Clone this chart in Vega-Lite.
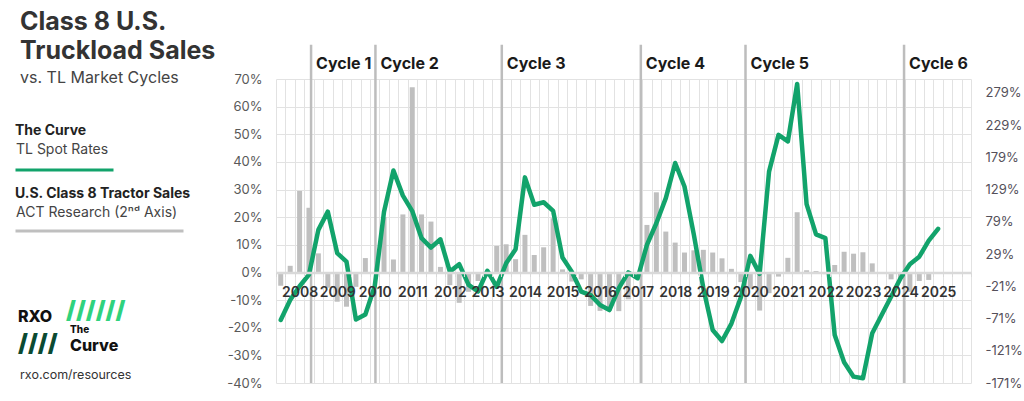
{
  "$schema": "https://vega.github.io/schema/vega-lite/v6.json",
  "width": 695,
  "height": 304,
  "autosize": {"type": "none"},
  "padding": {"left": 276, "top": 79, "right": 53, "bottom": 18},
  "background": "white",
  "config": {
    "view": {"stroke": null},
    "font": "Inter",
    "legend": {"padding": 0}
  },
  "title": {
    "text": ["Class 8 U.S.", "Truckload Sales"],
    "subtitle": "vs. TL Market Cycles",
    "anchor": "start", "frame": "group", "dx": -256, "offset": -43,
    "font": "Inter", "fontSize": 25, "fontWeight": 700, "color": "#333333", "lineHeight": 29,
    "subtitleFont": "Inter", "subtitleFontSize": 16, "subtitleColor": "#444444", "subtitlePadding": 6
  },
  "datasets": {
    "quarters": [
      {"quarter": "2007-07-01", "rate": -0.172, "sales": -0.206},
      {"quarter": "2007-10-01", "rate": -0.100, "sales": 0.103},
      {"quarter": "2008-01-01", "rate": -0.050, "sales": 1.264},
      {"quarter": "2008-04-01", "rate": -0.008, "sales": 1.003},
      {"quarter": "2008-07-01", "rate": 0.154, "sales": 0.296},
      {"quarter": "2008-10-01", "rate": 0.220, "sales": -0.236},
      {"quarter": "2009-01-01", "rate": 0.070, "sales": -0.454},
      {"quarter": "2009-04-01", "rate": 0.039, "sales": -0.531},
      {"quarter": "2009-07-01", "rate": -0.170, "sales": -0.223},
      {"quarter": "2009-10-01", "rate": -0.152, "sales": 0.223},
      {"quarter": "2010-01-01", "rate": -0.050, "sales": 0},
      {"quarter": "2010-04-01", "rate": 0.220, "sales": 0.857},
      {"quarter": "2010-07-01", "rate": 0.369, "sales": 0.201},
      {"quarter": "2010-10-01", "rate": 0.278, "sales": 0.900},
      {"quarter": "2011-01-01", "rate": 0.222, "sales": 2.871},
      {"quarter": "2011-04-01", "rate": 0.124, "sales": 0.900},
      {"quarter": "2011-07-01", "rate": 0.090, "sales": 0.789},
      {"quarter": "2011-10-01", "rate": 0.120, "sales": 0.086},
      {"quarter": "2012-01-01", "rate": 0.003, "sales": -0.197},
      {"quarter": "2012-04-01", "rate": 0.030, "sales": -0.471},
      {"quarter": "2012-07-01", "rate": -0.045, "sales": -0.300},
      {"quarter": "2012-10-01", "rate": -0.069, "sales": -0.133},
      {"quarter": "2013-01-01", "rate": 0.006, "sales": -0.064},
      {"quarter": "2013-04-01", "rate": -0.052, "sales": 0.411},
      {"quarter": "2013-07-01", "rate": 0.033, "sales": 0.437},
      {"quarter": "2013-10-01", "rate": 0.084, "sales": 0.206},
      {"quarter": "2014-01-01", "rate": 0.344, "sales": 0.583},
      {"quarter": "2014-04-01", "rate": 0.245, "sales": 0.270},
      {"quarter": "2014-07-01", "rate": 0.254, "sales": 0.390},
      {"quarter": "2014-10-01", "rate": 0.223, "sales": 0.840},
      {"quarter": "2015-01-01", "rate": 0.054, "sales": 0.047},
      {"quarter": "2015-04-01", "rate": 0.003, "sales": -0.141},
      {"quarter": "2015-07-01", "rate": -0.069, "sales": -0.107},
      {"quarter": "2015-10-01", "rate": -0.082, "sales": -0.519},
      {"quarter": "2016-01-01", "rate": -0.118, "sales": -0.596},
      {"quarter": "2016-04-01", "rate": -0.136, "sales": -0.591},
      {"quarter": "2016-07-01", "rate": -0.057, "sales": -0.600},
      {"quarter": "2016-10-01", "rate": 0.000, "sales": -0.416},
      {"quarter": "2017-01-01", "rate": -0.021, "sales": 0},
      {"quarter": "2017-04-01", "rate": 0.100, "sales": 0.737},
      {"quarter": "2017-07-01", "rate": 0.178, "sales": 1.243},
      {"quarter": "2017-10-01", "rate": 0.269, "sales": 0.634},
      {"quarter": "2018-01-01", "rate": 0.396, "sales": 0.463},
      {"quarter": "2018-04-01", "rate": 0.311, "sales": 0.309},
      {"quarter": "2018-07-01", "rate": 0.136, "sales": 0.343},
      {"quarter": "2018-10-01", "rate": -0.057, "sales": 0.351},
      {"quarter": "2019-01-01", "rate": -0.208, "sales": 0.309},
      {"quarter": "2019-04-01", "rate": -0.248, "sales": 0.219},
      {"quarter": "2019-07-01", "rate": -0.185, "sales": 0.056},
      {"quarter": "2019-10-01", "rate": -0.090, "sales": -0.150},
      {"quarter": "2020-01-01", "rate": 0.060, "sales": -0.249},
      {"quarter": "2020-04-01", "rate": -0.005, "sales": -0.591},
      {"quarter": "2020-07-01", "rate": 0.365, "sales": -0.321},
      {"quarter": "2020-10-01", "rate": 0.498, "sales": -0.064},
      {"quarter": "2021-01-01", "rate": 0.474, "sales": 0.227},
      {"quarter": "2021-04-01", "rate": 0.682, "sales": 0.934},
      {"quarter": "2021-07-01", "rate": 0.247, "sales": 0.034},
      {"quarter": "2021-10-01", "rate": 0.138, "sales": 0.021},
      {"quarter": "2022-01-01", "rate": 0.124, "sales": -0.026},
      {"quarter": "2022-04-01", "rate": -0.226, "sales": 0.116},
      {"quarter": "2022-07-01", "rate": -0.325, "sales": 0.321},
      {"quarter": "2022-10-01", "rate": -0.377, "sales": 0.291},
      {"quarter": "2023-01-01", "rate": -0.383, "sales": 0.313},
      {"quarter": "2023-04-01", "rate": -0.220, "sales": 0.141},
      {"quarter": "2023-07-01", "rate": -0.154, "sales": 0},
      {"quarter": "2023-10-01", "rate": -0.088, "sales": -0.107},
      {"quarter": "2024-01-01", "rate": -0.021, "sales": -0.094},
      {"quarter": "2024-04-01", "rate": 0.030, "sales": -0.300},
      {"quarter": "2024-07-01", "rate": 0.057, "sales": -0.133},
      {"quarter": "2024-10-01", "rate": 0.115, "sales": -0.116},
      {"quarter": "2025-01-01", "rate": 0.158, "sales": null}
    ],
    "cycles": [
      {"cycle": "Cycle 1", "start": "2008-06-06"},
      {"cycle": "Cycle 2", "start": "2010-02-22"},
      {"cycle": "Cycle 3", "start": "2013-07-05"},
      {"cycle": "Cycle 4", "start": "2017-03-18"},
      {"cycle": "Cycle 5", "start": "2019-12-31"},
      {"cycle": "Cycle 6", "start": "2024-03-21"}
    ]
  },
  "resolve": {"scale": {"y": "independent"}, "axis": {"x": "independent", "y": "independent"}},
  "layer": [
    {
      "data": {"name": "quarters"},
      "mark": {"type": "bar", "width": 5},
      "encoding": {
        "x": {
          "field": "quarter", "type": "temporal", "timeUnit": "utcyearquarter", "bandPosition": 0.5, "title": null,
          "scale": {"type": "utc", "nice": false, "domain": [{"year": 2007, "month": 7, "date": 1, "utc": true}, {"year": 2026, "month": 1, "date": 1, "utc": true}]},
          "axis": {
            "orient": "bottom", "zindex": 1, "grid": false, "offset": -110.5,
            "tickCount": {"interval": "month", "step": 3},
            "labelExpr": "utcmonth(datum.value) == 0 && utcyear(datum.value) < 2026 ? utcFormat(datum.value, '%Y') : ''",
            "domainColor": "#d9d9d9", "domainWidth": 2.5,
            "tickColor": "#d9d9d9", "tickSize": 4, "tickWidth": 1,
            "labelFont": "Inter", "labelFontSize": 14, "labelFontWeight": 600, "labelColor": "#333333",
            "labelPadding": 9, "labelOffset": 4.7,
            "labelOverlap": false, "labelBound": false, "labelFlush": false
          }
        },
        "y": {
          "field": "sales", "type": "quantitative", "title": null,
          "scale": {"domain": [-1.7142857, 3.0], "nice": false, "zero": false},
          "axis": {
            "orient": "right", "zindex": 0,
            "values": [-1.7142857, -1.2142857, -0.7142857, -0.2142857, 0.2857143, 0.7857143, 1.2857143, 1.7857143, 2.2857143, 2.7857143],
            "format": ".0%", "labelExpr": "replace(datum.label, '\u2212', '-')",
            "grid": false, "domain": false, "ticks": false, "labelPadding": 14, "labelOverlap": false,
            "labelFontSize": 13, "labelColor": "#55505a", "labelFont": "Inter"
          }
        },
        "fill": {
          "datum": "ACT Research (2\u207f\u1d48 Axis)",
          "scale": {"range": ["#bfbfbf"]},
          "legend": {
            "title": "U.S. Class 8 Tractor Sales", "orient": "none", "legendX": -261, "legendY": 108,
            "symbolType": "M-1.3,3.6H32.3", "symbolSize": 100, "symbolStrokeWidth": 3, "symbolStrokeColor": "#bfbfbf",
            "labelOffset": -13, "titleFontSize": 14, "titleFontWeight": 700, "titleColor": "#222222",
            "labelFontSize": 14, "labelColor": "#444444", "titlePadding": 5, "labelLimit": 300, "titleLimit": 300,
            "titleFont": "Inter", "labelFont": "Inter"
          }
        }
      }
    },
    {
      "data": {"name": "cycles"},
      "mark": {"type": "rule", "color": "#bdbdbd", "strokeWidth": 2.5},
      "encoding": {
        "x": {"field": "start", "type": "temporal", "title": null, "axis": null},
        "y": {"datum": 0.824, "type": "quantitative", "axis": null, "scale": {"domain": [-0.4, 0.7], "nice": false, "zero": false}},
        "y2": {"datum": -0.4}
      }
    },
    {
      "data": {"name": "cycles"},
      "mark": {"type": "text", "align": "left", "baseline": "alphabetic", "dx": 5, "fontSize": 16, "fontWeight": 700, "color": "#1a1a1a", "font": "Inter"},
      "encoding": {
        "x": {"field": "start", "type": "temporal", "title": null, "axis": null},
        "y": {"datum": 0.735, "type": "quantitative", "axis": null, "scale": {"domain": [-0.4, 0.7], "nice": false, "zero": false}},
        "text": {"field": "cycle"}
      }
    },
    {
      "data": {"name": "quarters"},
      "mark": {"type": "line", "strokeWidth": 4.5, "strokeJoin": "round", "strokeCap": "round"},
      "encoding": {
        "x": {
          "field": "quarter", "type": "temporal", "timeUnit": "utcyearquarter", "bandPosition": 0.5, "title": null,
          "axis": {
            "orient": "top", "zindex": 0, "grid": true, "labels": false, "ticks": false, "domain": false,
            "gridColor": "#e2e2e2", "gridWidth": 1,
            "tickCount": {"interval": "month", "step": 3}
          }
        },
        "y": {
          "field": "rate", "type": "quantitative", "title": null,
          "scale": {"domain": [-0.4, 0.7], "nice": false, "zero": false},
          "axis": {
            "orient": "left", "zindex": 0,
            "values": [-0.4, -0.3, -0.2, -0.1, 0, 0.1, 0.2, 0.3, 0.4, 0.5, 0.6, 0.7],
            "format": ".0%", "labelExpr": "replace(datum.label, '\u2212', '-')",
            "grid": true, "gridColor": "#e2e2e2", "gridWidth": 1,
            "domain": false, "ticks": false, "labelPadding": 14, "labelOverlap": false,
            "labelFontSize": 13, "labelColor": "#595959", "labelFont": "Inter"
          }
        },
        "stroke": {
          "datum": "TL Spot Rates",
          "scale": {"range": ["#12a36b"]},
          "legend": {
            "title": "The Curve", "orient": "none", "legendX": -261, "legendY": 45,
            "symbolType": "M-1.3,4.0H18.3", "symbolSize": 100, "symbolStrokeWidth": 3,
            "labelOffset": -13, "titleFontSize": 14, "titleFontWeight": 700, "titleColor": "#222222",
            "labelFontSize": 14, "labelColor": "#444444", "titlePadding": 5, "labelLimit": 300,
            "titleFont": "Inter", "labelFont": "Inter"
          }
        }
      }
    },
    {
      "data": {"values": [{}]},
      "mark": {"type": "text", "text": "RXO", "align": "left", "baseline": "alphabetic", "fontSize": 16, "fontWeight": 800, "color": "#111111", "font": "Inter"},
      "encoding": {
        "x": {"datum": {"year": 2000, "month": 8, "date": 17, "utc": true}, "type": "temporal", "axis": null},
        "y": {"datum": -0.179, "type": "quantitative", "axis": null, "scale": {"domain": [-0.4, 0.7], "nice": false, "zero": false}}
      }
    },
    {
      "data": {"values": [{}]},
      "mark": {"type": "text", "text": "////", "align": "left", "baseline": "alphabetic", "fontSize": 24, "fontWeight": 900, "color": "#0b4a32", "font": "Inter"},
      "encoding": {
        "x": {"datum": {"year": 2000, "month": 8, "date": 17, "utc": true}, "type": "temporal", "axis": null},
        "y": {"datum": -0.285, "type": "quantitative", "axis": null, "scale": {"domain": [-0.4, 0.7], "nice": false, "zero": false}}
      }
    },
    {
      "data": {"values": [{}]},
      "mark": {"type": "text", "text": "//////", "align": "left", "baseline": "alphabetic", "fontSize": 24, "fontWeight": 900, "color": "#2fd27e", "font": "Inter"},
      "encoding": {
        "x": {"datum": {"year": 2001, "month": 11, "date": 27, "utc": true}, "type": "temporal", "axis": null},
        "y": {"datum": -0.165, "type": "quantitative", "axis": null, "scale": {"domain": [-0.4, 0.7], "nice": false, "zero": false}}
      }
    },
    {
      "data": {"values": [{}]},
      "mark": {"type": "text", "text": "The", "align": "left", "baseline": "alphabetic", "fontSize": 10, "fontWeight": 800, "color": "#111111", "font": "Inter"},
      "encoding": {
        "x": {"datum": {"year": 2002, "month": 1, "date": 5, "utc": true}, "type": "temporal", "axis": null},
        "y": {"datum": -0.219, "type": "quantitative", "axis": null, "scale": {"domain": [-0.4, 0.7], "nice": false, "zero": false}}
      }
    },
    {
      "data": {"values": [{}]},
      "mark": {"type": "text", "text": "Curve", "align": "left", "baseline": "alphabetic", "fontSize": 16, "fontWeight": 800, "color": "#111111", "font": "Inter"},
      "encoding": {
        "x": {"datum": {"year": 2002, "month": 1, "date": 5, "utc": true}, "type": "temporal", "axis": null},
        "y": {"datum": -0.286, "type": "quantitative", "axis": null, "scale": {"domain": [-0.4, 0.7], "nice": false, "zero": false}}
      }
    },
    {
      "data": {"values": [{}]},
      "mark": {"type": "text", "text": "rxo.com/resources", "align": "left", "baseline": "alphabetic", "fontSize": 12.5, "color": "#333333", "font": "Inter"},
      "encoding": {
        "x": {"datum": {"year": 2000, "month": 9, "date": 5, "utc": true}, "type": "temporal", "axis": null},
        "y": {"datum": -0.386, "type": "quantitative", "axis": null, "scale": {"domain": [-0.4, 0.7], "nice": false, "zero": false}}
      }
    }
  ]
}
